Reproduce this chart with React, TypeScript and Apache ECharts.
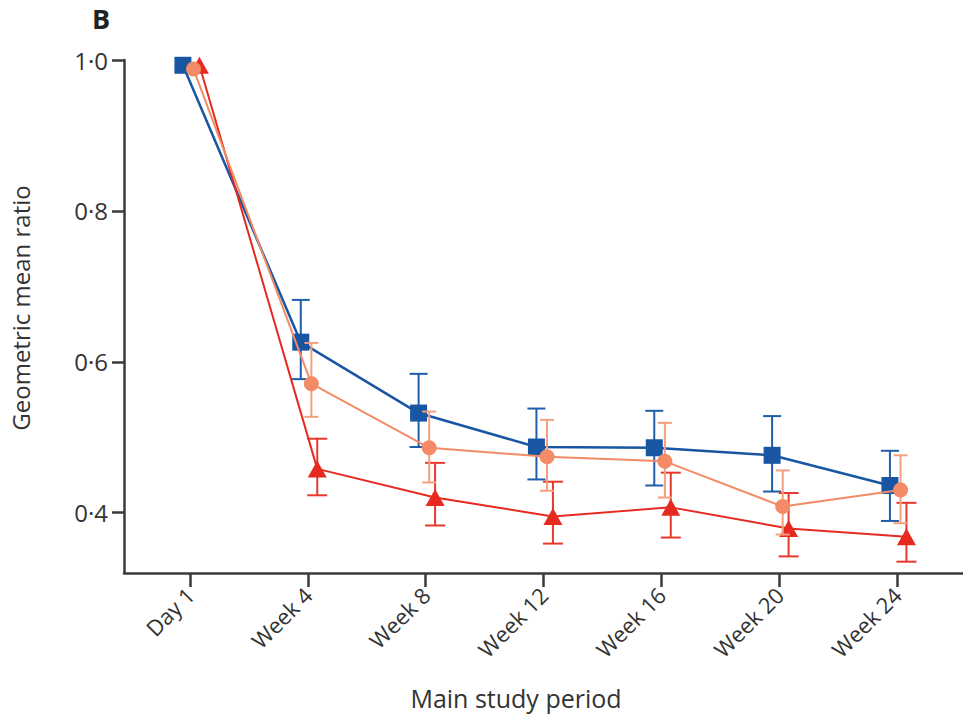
import React, { useEffect, useRef } from "react";
import * as echarts from "echarts";

const CATEGORIES = ["Day 1", "Week 4", "Week 8", "Week 12", "Week 16", "Week 20", "Week 24"];
const Y_TICKS = [0.4, 0.6, 0.8, 1.0];

const BLUE_MEAN = [0.993, 0.626, 0.532, 0.487, 0.486, 0.476, 0.436];
const BLUE_LOW = [null, 0.577, 0.487, 0.444, 0.436, 0.428, 0.389];
const BLUE_HIGH = [null, 0.682, 0.584, 0.538, 0.535, 0.528, 0.482];

const ORANGE_MEAN = [0.988, 0.571, 0.486, 0.474, 0.468, 0.408, 0.43];
const ORANGE_LOW = [null, 0.527, 0.44, 0.429, 0.42, 0.371, 0.386];
const ORANGE_HIGH = [null, 0.625, 0.534, 0.523, 0.519, 0.456, 0.476];

const RED_MEAN = [0.993, 0.458, 0.42, 0.395, 0.407, 0.379, 0.368];
const RED_LOW = [null, 0.423, 0.383, 0.359, 0.367, 0.342, 0.335];
const RED_HIGH = [null, 0.498, 0.466, 0.441, 0.453, 0.426, 0.413];

const FONT = "Open Sans";
const AXIS_COLOR = "#3a3a3a";
const TEXT_COLOR = "#333333";

type SeriesDef = {
  name: string;
  mean: number[];
  low: (number | null)[];
  high: (number | null)[];
  color: string;
  barColor: string;
  symbol: string;
  symbolSize: number | number[];
  dodge: number;
  cap: number;
  width: number;
};

const SERIES: SeriesDef[] = [
  { name: "blue", mean: BLUE_MEAN, low: BLUE_LOW, high: BLUE_HIGH, color: "#1856a3", barColor: "#1f5ea8", symbol: "rect", symbolSize: 17, dodge: -0.06, cap: 18, width: 2.5 },
  { name: "red", mean: RED_MEAN, low: RED_LOW, high: RED_HIGH, color: "#e62a20", barColor: "#e8382e", symbol: "triangle", symbolSize: [19, 17], dodge: 0.08, cap: 20, width: 2 },
  { name: "orange", mean: ORANGE_MEAN, low: ORANGE_LOW, high: ORANGE_HIGH, color: "#f28b66", barColor: "#f4a07e", symbol: "circle", symbolSize: 15, dodge: 0.03, cap: 14, width: 2 },
];

function fmtTick(v: number) {
  return v.toFixed(1).replace(".", "\u00b7");
}

export default function App() {
  const ref = useRef<HTMLDivElement>(null);
  useEffect(() => {
    if (!ref.current) return;
    const chart = echarts.init(ref.current, undefined, { renderer: "svg" });

    const series: any[] = [];
    SERIES.forEach((s, si) => {
      const errData = s.mean
        .map((_, i) => (s.low[i] == null ? null : [i + s.dodge, s.low[i], s.high[i]]))
        .filter((d) => d !== null);
      series.push({
        type: "custom",
        name: s.name + "-err",
        z: 2 + si * 2,
        data: errData,
        encode: { x: 0, y: [1, 2] },
        renderItem: (params: any, api: any) => {
          const x = api.value(0);
          const pLo = api.coord([x, api.value(1)]);
          const pHi = api.coord([x, api.value(2)]);
          const w = s.cap / 2;
          const style = { stroke: s.barColor, lineWidth: 2, fill: "none" };
          return {
            type: "group",
            children: [
              { type: "line", shape: { x1: pLo[0], y1: pLo[1], x2: pHi[0], y2: pHi[1] }, style },
              { type: "line", shape: { x1: pLo[0] - w, y1: pLo[1], x2: pLo[0] + w, y2: pLo[1] }, style },
              { type: "line", shape: { x1: pHi[0] - w, y1: pHi[1], x2: pHi[0] + w, y2: pHi[1] }, style },
            ],
          };
        },
      });
      series.push({
        type: "line",
        name: s.name,
        z: 3 + si * 2,
        data: s.mean.map((v, i) => [i + s.dodge, v]),
        symbol: s.symbol,
        symbolSize: s.symbolSize,
        showSymbol: true,
        lineStyle: { color: s.color, width: s.width },
        itemStyle: { color: s.color, borderWidth: 0 },
      });
    });

    chart.setOption({
      animation: false,
      backgroundColor: "#ffffff",
      grid: { left: 124, right: 0, top: 60, bottom: 154 },
      xAxis: {
        type: "value",
        min: -0.56,
        max: 6.56,
        splitLine: { show: false },
        axisLine: { show: true, onZero: false, lineStyle: { color: AXIS_COLOR, width: 2.5 } },
        axisTick: { show: true, length: 14, customValues: CATEGORIES.map((_, i) => i), lineStyle: { color: AXIS_COLOR, width: 2.5 } },
        axisLabel: {
          customValues: CATEGORIES.map((_, i) => i),
          formatter: (v: number) => CATEGORIES[Math.round(v)] ?? "",
          rotate: 45,
          margin: 18,
          fontFamily: FONT,
          fontSize: 22,
          color: TEXT_COLOR,
        },
      },
      yAxis: {
        type: "value",
        min: 0.32,
        max: 1.0,
        splitLine: { show: false },
        axisLine: { show: true, onZero: false, lineStyle: { color: AXIS_COLOR, width: 2.5 } },
        axisTick: { show: true, length: 12, customValues: Y_TICKS, lineStyle: { color: AXIS_COLOR, width: 2.5 } },
        axisLabel: {
          customValues: Y_TICKS,
          formatter: (v: number) => fmtTick(v),
          margin: 16,
          fontFamily: FONT,
          fontSize: 24,
          color: TEXT_COLOR,
        },
      },
      graphic: [
        { type: "text", left: 92, top: 5, style: { text: "B", fontFamily: FONT, fontSize: 27, fontWeight: "bold", fill: "#222" } },
        {
          type: "text",
          x: 20,
          y: 308,
          rotation: Math.PI / 2,
          style: { text: "Geometric mean ratio", fontFamily: FONT, fontSize: 24, fill: TEXT_COLOR, align: "center", verticalAlign: "middle" },
        },
        {
          type: "text",
          x: 516,
          y: 698,
          style: { text: "Main study period", fontFamily: FONT, fontSize: 25, fill: TEXT_COLOR, align: "center", verticalAlign: "middle" },
        },
      ],
      series,
    });
    return () => chart.dispose();
  }, []);
  return <div ref={ref} style={{ width: 963, height: 727, position: "absolute", left: 0, top: 0 }} />;
}
